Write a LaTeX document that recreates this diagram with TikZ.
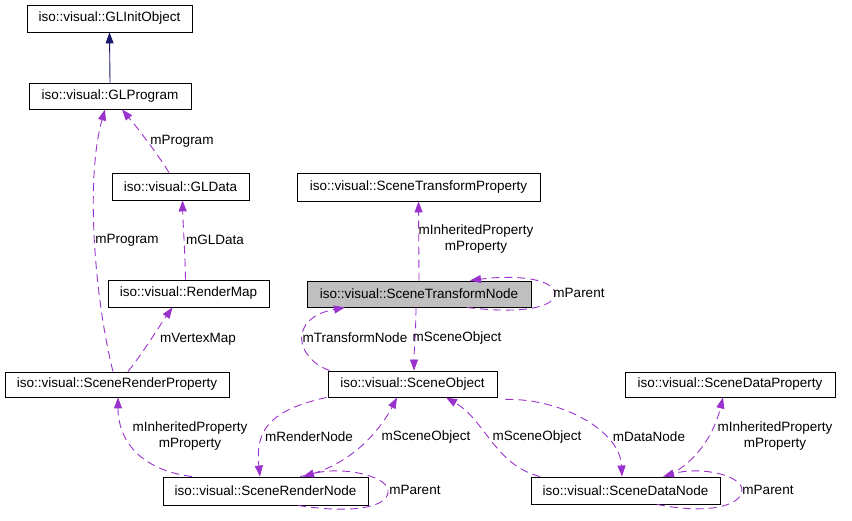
\documentclass[tikz,border=0pt]{standalone}
\usepackage{fontspec}
\setmainfont{Liberation Sans}
\usetikzlibrary{arrows.meta}
\definecolor{edgepurple}{HTML}{9A32CD}
\definecolor{edgenavy}{HTML}{191970}
\definecolor{boxgray}{HTML}{BFBFBF}
\begin{document}
\begin{tikzpicture}[x=1pt,y=-1pt,
  cls/.style={draw=black,line width=0.9pt,fill=white,inner sep=0pt,
    font=\fontsize{13.5}{16}\selectfont},
  lbl/.style={inner sep=0pt,align=center,font=\fontsize{13.5}{16}\selectfont},
  usage/.style={draw=edgepurple,line width=0.9pt,dash pattern=on 8pt off 5pt,
    -{Triangle[length=11pt,width=8pt]},fill=none},
  inherit/.style={draw=edgenavy,line width=0.9pt,
    -{Triangle[length=11pt,width=8pt,fill=edgenavy]}}]
\useasboundingbox (0,0) rectangle (852,521);
\fill[white] (0,0) rectangle (852,521);
% nodes
\node[cls,minimum width=165pt,minimum height=27pt] (glinit) at (109.5,18.5) {iso::visual::GLInitObject};
\node[cls,minimum width=162pt,minimum height=26pt] (glprog) at (110,96) {iso::visual::GLProgram};
\node[cls,minimum width=137pt,minimum height=27pt] (gldata) at (180.5,186.5) {iso::visual::GLData};
\node[cls,minimum width=161pt,minimum height=27pt] (rmap) at (188.5,293.5) {iso::visual::RenderMap};
\node[cls,minimum width=224pt,minimum height=25pt] (srp) at (117,384.5) {iso::visual::SceneRenderProperty};
\node[cls,minimum width=243pt,minimum height=28pt] (stp) at (418.5,187) {iso::visual::SceneTransformProperty};
\node[cls,fill=boxgray,minimum width=224pt,minimum height=26pt] (stn) at (419,294) {iso::visual::SceneTransformNode};
\node[cls,minimum width=169pt,minimum height=26pt] (sobj) at (412.5,384) {iso::visual::SceneObject};
\node[cls,minimum width=205pt,minimum height=28pt] (srn) at (265.5,491) {iso::visual::SceneRenderNode};
\node[cls,minimum width=189pt,minimum height=27pt] (sdn) at (625.5,490.5) {iso::visual::SceneDataNode};
\node[cls,minimum width=210pt,minimum height=25pt] (sdp) at (730,384.5) {iso::visual::SceneDataProperty};
% edges
\draw[inherit] (glprog.north) -- (glinit.south);
\draw[usage] ([xshift=-11.5pt]gldata.north) .. controls (155,150) and (135,125) .. ([xshift=12pt]glprog.south);
\draw[usage] ([xshift=-4pt]srp.north) .. controls (95,300) and (85,180) .. ([xshift=-5pt]glprog.south);
\draw[usage] ([xshift=-3pt]rmap.north) .. controls (185,250) and (183,225) .. ([xshift=2pt]gldata.south);
\draw[usage] ([xshift=11pt]srp.north) .. controls (145,350) and (160,325) .. ([xshift=-16pt]rmap.south);
\draw[usage] (stn.north) -- (stp.south);
\draw[usage] ([xshift=48pt]stn.south) .. controls (530,315) and (555,305) .. (555,294) .. controls (555,280) and (520,274) .. ([xshift=51pt]stn.north);
\draw[usage] ([xshift=-3pt]stn.south) .. controls (416,330) and (414,350) .. ([xshift=1.5pt]sobj.north);
\draw[usage] ([xshift=2pt]sobj.north west) .. controls (295,358) and (288,318) .. ([xshift=-74pt]stn.south);
\draw[usage] ([xshift=-73.5pt]srn.north) .. controls (140,470) and (118,440) .. ([xshift=1pt]srp.south);
\draw[usage] ([xshift=-1pt]sobj.south west) .. controls (270,410) and (255,430) .. ([xshift=-5.5pt]srn.north);
\draw[usage] ([xshift=34.5pt]srn.north) .. controls (340,470) and (375,440) .. ([xshift=-15.5pt]sobj.south);
\draw[usage] ([xshift=32.5pt]srn.south) .. controls (360,515) and (390,505) .. (388,490) .. controls (386,475) and (340,466) .. ([xshift=37.5pt]srn.north);
\draw[usage] ([xshift=-85.5pt]sdn.north) .. controls (495,465) and (485,420) .. ([xshift=33.5pt]sobj.south);
\draw[usage] ([xshift=8pt,yshift=-2pt]sobj.south east) .. controls (560,398) and (620,430) .. ([xshift=-3.5pt]sdn.north);
\draw[usage] ([xshift=41.5pt]sdn.north) .. controls (700,460) and (715,430) .. ([xshift=-7pt]sdp.south);
\draw[usage] ([xshift=31.5pt]sdn.south) .. controls (710,515) and (742,505) .. (742,490) .. controls (742,475) and (700,466) .. ([xshift=37.5pt]sdn.north);
% labels
\node[lbl] (l1) at (182,141) {mProgram};
\node[lbl] (l2) at (127,240) {mProgram};
\node[lbl] (l3) at (215,240) {mGLData};
\node[lbl] (l4) at (198,339) {mVertexMap};
\node[lbl] (l5) at (476,239) {mInheritedProperty\\mProperty};
\node[lbl] (l6) at (579,293) {mParent};
\node[lbl] (l7) at (355,338) {mTransformNode};
\node[lbl] (l8) at (457,338) {mSceneObject};
\node[lbl] (l9) at (190,436) {mInheritedProperty\\mProperty};
\node[lbl] (l10) at (309,437) {mRenderNode};
\node[lbl] (l11) at (426,437) {mSceneObject};
\node[lbl] (l12) at (415,490) {mParent};
\node[lbl] (l13) at (537,437) {mSceneObject};
\node[lbl] (l14) at (649,437) {mDataNode};
\node[lbl] (l15) at (775,436) {mInheritedProperty\\mProperty};
\node[lbl] (l16) at (768,490) {mParent};
\end{tikzpicture}
\end{document}
